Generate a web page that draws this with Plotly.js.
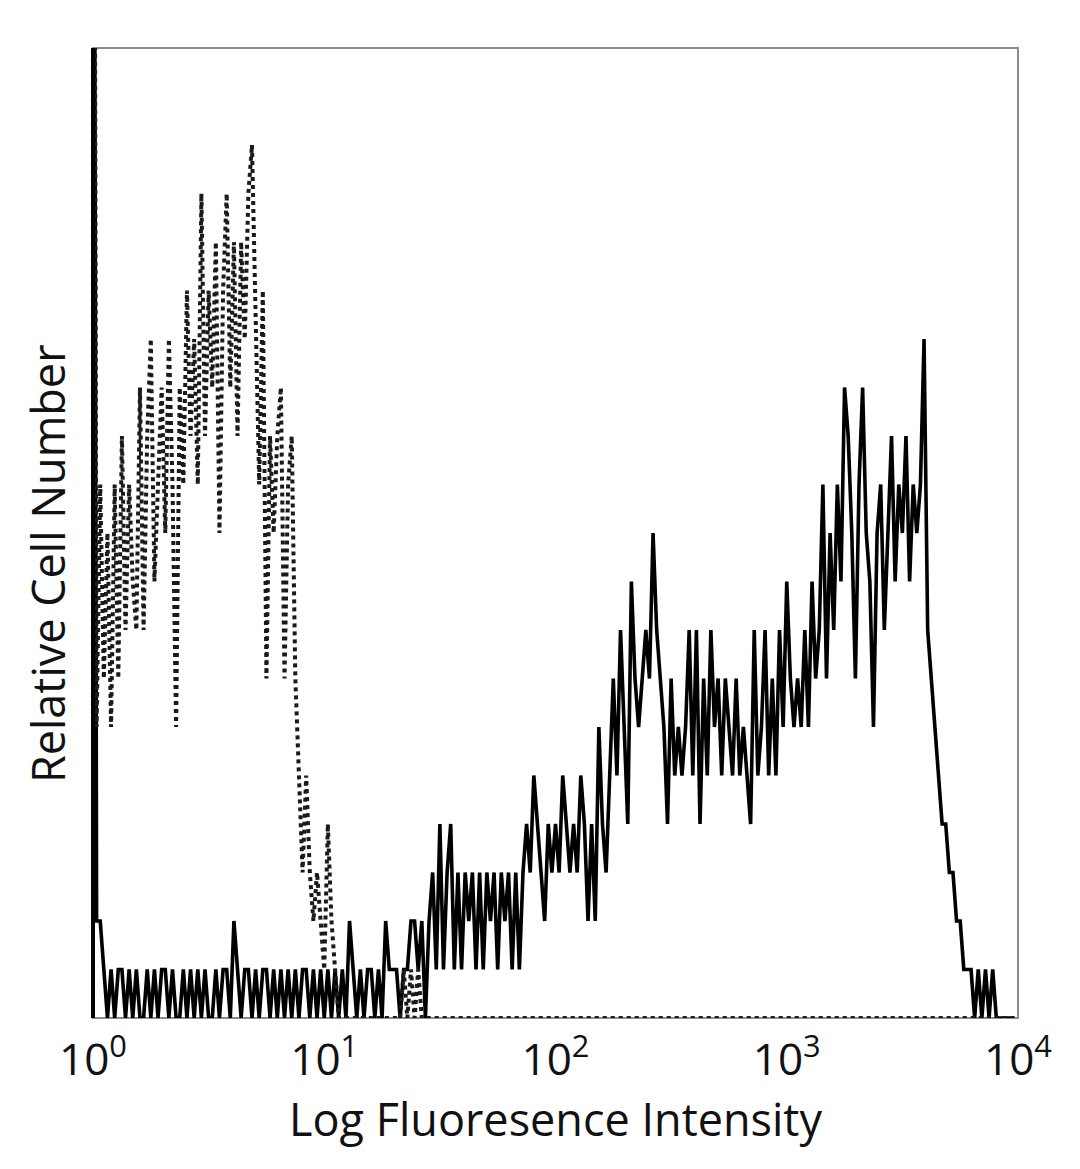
<!DOCTYPE html>
<html>
<head>
<meta charset="utf-8">
<script src="https://cdn.plot.ly/plotly-3.0.1.min.js"></script>
<style>
html,body{margin:0;padding:0;background:#fff;}
#chart{width:1080px;height:1169px;}
</style>
</head>
<body>
<div id="chart"></div>
<script>
// Tick labels for the log fluorescence axis (decades, 256 channels)
const decadeChannels = [0, 64, 128, 192, 256];
const decadeLabels = ['10<sup>0</sup>', '10<sup>1</sup>', '10<sup>2</sup>', '10<sup>3</sup>', '10<sup>4</sup>'];

// Isotype control histogram (dotted), counts per channel 0..255
const isotypeCounts = [
  40,6,11,7,10,6,11,7,12,8,11,9,8,13,8,12,
  14,9,11,13,10,14,11,6,13,11,15,12,14,11,17,12,
  15,13,16,10,15,17,13,16,12,16,14,17,18,14,11,15,
  7,12,10,12,13,7,11,12,7,5,3,5,3,2,3,2,
  1,4,2,1,0,0,0,0,0,0,0,0,0,0,0,0,
  0,0,0,0,0,0,1,0,1,0,1,0,0,0,0,0,
  0,0,0,0,0,0,0,0,0,0,0,0,0,0,0,0,
  0,0,0,0,0,0,0,0,0,0,0,0,0,0,0,0,
  0,0,0,0,0,0,0,0,0,0,0,0,0,0,0,0,
  0,0,0,0,0,0,0,0,0,0,0,0,0,0,0,0,
  0,0,0,0,0,0,0,0,0,0,0,0,0,0,0,0,
  0,0,0,0,0,0,0,0,0,0,0,0,0,0,0,0,
  0,0,0,0,0,0,0,0,0,0,0,0,0,0,0,0,
  0,0,0,0,0,0,0,0,0,0,0,0,0,0,0,0,
  0,0,0,0,0,0,0,0,0,0,0,0,0,0,0,0,
  0,0,0,0,0,0,0,0,0,0,0,0,0,0,0,0
];

// Stained sample histogram (solid), counts per channel 0..255
const stainedCounts = [
  40,2,2,1,0,1,0,1,1,0,1,0,1,0,0,1,
  0,1,0,1,1,0,1,0,0,1,0,1,0,1,0,1,
  0,0,1,0,1,1,0,2,1,0,1,1,0,1,0,1,
  1,0,1,0,1,0,1,0,1,0,1,1,0,1,0,1,
  0,1,0,1,0,1,0,2,1,0,1,0,1,1,0,1,
  0,2,1,1,1,0,1,1,2,2,1,2,0,2,3,1,
  4,1,3,4,1,3,1,3,2,3,1,3,1,3,2,3,
  1,3,2,3,1,3,1,3,4,3,5,4,3,2,4,3,
  4,3,5,4,3,4,3,5,4,2,4,2,6,4,3,5,
  7,5,8,6,4,9,7,6,7,8,7,10,8,7,6,4,
  7,5,6,5,6,8,5,8,4,7,5,8,6,7,5,7,
  6,5,7,5,6,5,4,8,5,6,8,5,7,5,8,6,
  9,7,6,7,6,8,6,9,7,8,11,7,10,8,11,9,
  13,12,10,7,11,13,10,9,6,10,11,8,10,12,9,11,
  10,12,9,11,10,11,14,8,7,6,5,4,4,3,3,2,
  2,1,1,1,0,1,0,1,0,1,0,0,0,0,0,0
];

const traces = [
  {
    type: 'scatter', mode: 'lines', name: 'Stained',
    y: stainedCounts, x0: 0, dx: 1,
    line: {color: '#000000', width: 3.6, shape: 'linear'},
    hoverinfo: 'skip'
  },
  {
    type: 'scatter', mode: 'lines', name: 'Isotype control',
    y: isotypeCounts, x0: 0, dx: 1,
    line: {color: '#1a1a1a', width: 4, dash: '4px,4px', shape: 'linear'},
    hoverinfo: 'skip'
  }
];

const layout = {
  width: 1080, height: 1169,
  margin: {l: 93, r: 62, t: 48, b: 151, pad: 0},
  paper_bgcolor: '#ffffff', plot_bgcolor: '#ffffff',
  showlegend: false,
  font: {family: '"Open Sans", sans-serif', color: '#111111', size: 44},
  xaxis: {
    range: [0, 256], tickmode: 'array', tickvals: decadeChannels, ticktext: decadeLabels,
    ticks: '', showgrid: false, zeroline: false, showline: false,
    ticklabelstandoff: 12,
    tickfont: {size: 44, color: '#111111'},
    title: {text: 'Log Fluoresence Intensity', font: {size: 45, color: '#111111'}, standoff: 10},
    automargin: false
  },
  yaxis: {
    range: [0, 20], showticklabels: false, ticks: '', showgrid: false, zeroline: false, showline: false,
    automargin: false
  },
  annotations: [
    {text: 'Relative Cell Number', xref: 'paper', yref: 'paper', x: -0.0497, y: 0.468,
     xanchor: 'center', yanchor: 'middle', textangle: -90, showarrow: false,
     font: {size: 45, color: '#111111'}}
  ],
  shapes: [
    {type: 'rect', xref: 'paper', yref: 'paper', x0: 0, x1: 1, y0: 0, y1: 1,
     line: {color: '#8c8c8c', width: 2}, layer: 'below'},
    {type: 'line', xref: 'paper', yref: 'paper', x0: 0, x1: 0, y0: 0, y1: 1,
     line: {color: '#000000', width: 4}, layer: 'above'}
  ]
};

Plotly.newPlot('chart', traces, layout, {staticPlot: true, displayModeBar: false});
</script>
</body>
</html>
